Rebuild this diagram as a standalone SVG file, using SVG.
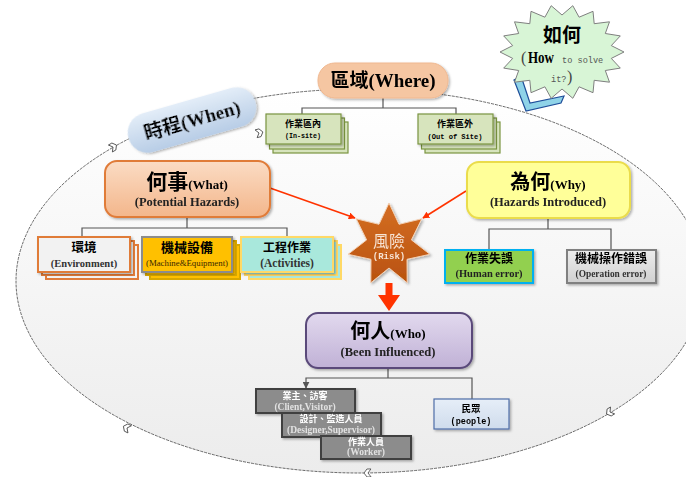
<svg xmlns="http://www.w3.org/2000/svg" width="686" height="477" viewBox="0 0 686 477">
  <defs>
    <linearGradient id="gOval" x1="0" y1="0" x2="0" y2="1">
      <stop offset="0" stop-color="#ffffff"/>
      <stop offset="1" stop-color="#ececec"/>
    </linearGradient>
    <linearGradient id="gPeach" x1="0" y1="0" x2="0" y2="1">
      <stop offset="0" stop-color="#fbdcc4"/>
      <stop offset="1" stop-color="#f3b68b"/>
    </linearGradient>
    <linearGradient id="gBlue" x1="0" y1="0" x2="0" y2="1">
      <stop offset="0" stop-color="#e3edf8"/>
      <stop offset="1" stop-color="#b8cde6"/>
    </linearGradient>
    <linearGradient id="gLav" x1="0" y1="0" x2="0" y2="1">
      <stop offset="0" stop-color="#e2d9ee"/>
      <stop offset="1" stop-color="#c0b1d6"/>
    </linearGradient>
    <linearGradient id="gGray" x1="0" y1="0" x2="0" y2="1">
      <stop offset="0" stop-color="#ededed"/>
      <stop offset="1" stop-color="#d0d0d0"/>
    </linearGradient>
    <linearGradient id="gRisk" x1="0" y1="0" x2="0" y2="1">
      <stop offset="0" stop-color="#d46e24"/>
      <stop offset="1" stop-color="#b9520f"/>
    </linearGradient>
    <linearGradient id="gPeople" x1="0" y1="0" x2="0" y2="1">
      <stop offset="0" stop-color="#e6eef8"/>
      <stop offset="1" stop-color="#cfdcec"/>
    </linearGradient>
    <filter id="shadow" x="-10%" y="-10%" width="130%" height="140%">
      <feDropShadow dx="1.5" dy="1.5" stdDeviation="1" flood-color="#000" flood-opacity="0.3"/>
    </filter>
    <marker id="redHead" viewBox="0 0 10 10" refX="9" refY="5" markerWidth="7" markerHeight="7" orient="auto" markerUnits="userSpaceOnUse">
      <path d="M0,0 L10,5 L0,10 z" fill="#ff3300"/>
    </marker>
    <marker id="grayHead" viewBox="0 0 10 10" refX="9" refY="5" markerWidth="7" markerHeight="7" orient="auto" markerUnits="userSpaceOnUse">
      <path d="M0,0 L10,5 L0,10 z" fill="#555"/>
    </marker>
    <path id="chev" d="M-3,-4 L1,-4 L4,0 L1,4 L-3,4 L0,0 z"/>
    <style>
      .cjk { font-family: 'Liberation Serif', 'Noto Sans CJK TC', serif; font-weight: bold; }
      .mono { font-family: 'Liberation Mono', 'Noto Sans CJK TC', monospace; font-weight: bold; }
      .mid { text-anchor: middle; }
      .tree { fill: none; stroke: #555; stroke-width: 1.2; }
      .red { fill: none; stroke: #ff3300; stroke-width: 1.6; }
      .chev { fill: #fff; stroke: #444; stroke-width: 0.8; }
      .site { fill: #d7e4bd; stroke: #7a9440; stroke-width: 1.2; }
      .env { fill: #f2f2f2; stroke: #e07b39; stroke-width: 2; }
      .mach { fill: #ffc000; stroke: #8c8c8c; stroke-width: 2; }
      .mach-b { fill: #ffc000; stroke: #d9a800; stroke-width: 2; }
      .act { fill: #a9e8dc; stroke: #ffd966; stroke-width: 2; }
      .person { fill: #8c8c8c; stroke: #3f3f3f; stroke-width: 2; }
      .ptext { fill: #ffffff; }
      .psub { fill: #e2e2e2; font-family: 'Liberation Serif', serif; font-weight: bold; font-size: 9.5px; }
      .paren { font-family: 'Liberation Serif', serif; font-size: 16px; fill: #444; }
      .small { font-family: 'Liberation Mono', monospace; font-size: 8.6px; fill: #555; }
    </style>
  </defs>

  <!-- background cycle oval -->
  <ellipse cx="360" cy="281" rx="344" ry="192" fill="url(#gOval)" stroke="#444" stroke-width="0.8" stroke-dasharray="3 1"/>
  <g id="cycle-marks" class="chev">
    <use href="#chev" transform="translate(113,147) rotate(-30)"/>
    <use href="#chev" transform="translate(259,133) rotate(-15)"/>
    <use href="#chev" transform="translate(127,428) rotate(-154)"/>
    <use href="#chev" transform="translate(368,473) rotate(179)"/>
    <use href="#chev" transform="translate(610,412) rotate(149)"/>
  </g>

  <!-- connectors -->
  <g id="connectors">
    <path class="tree" d="M383,98 V108 M302,115 V108 H456 V115"/>
    <path class="tree" d="M187,217 V228 M82,237 V228 H287 V237"/>
    <path class="tree" d="M548,218 V229 M489,250 V229 H611 V250"/>
    <path class="tree" d="M388,368 V378 M472,399 V378 H306 V388" marker-end="url(#grayHead)"/>
    <path class="red" d="M270,188 L355,218" marker-end="url(#redHead)"/>
    <path class="red" d="M466,191 L423,218" marker-end="url(#redHead)"/>
    <path d="M385.5,283 h7 v12 h7.5 l-11,16 l-11,-16 h7.5 z" fill="#ff3300"/>
  </g>

  <!-- How to solve it? -->
  <g id="how">
    <polygon points="514,80 526,111 561,103 564,96 530,103 521,76" fill="#8fd3e8" stroke="#1f4e99" stroke-width="1.2"/>
    <polygon fill="#d8f5d6" stroke="#7f7f7f" stroke-width="1" points="624,52 611.3,45.6 620.3,35.9 605.3,33.5 609.5,21.8 594.2,23.7 593,11.3 579.1,17.2 572.8,5.7 562,15 551.2,5.7 544.9,17.2 531,11.3 529.8,23.7 514.5,21.8 518.7,33.5 503.7,35.9 512.7,45.6 500,52 512.7,58.4 503.7,68.1 518.7,70.5 514.5,82.2 529.8,80.3 531,92.7 544.9,86.8 551.2,98.3 562,89 572.8,98.3 579.1,86.8 593,92.7 594.2,80.3 609.5,82.2 605.3,70.5 620.3,68.1 611.3,58.4"/>
    <text class="cjk mid" x="562" y="42" font-size="19" fill="#000">如何</text>
    <text class="paren" x="521" y="63">(</text>
    <text x="528" y="63" font-family="'Liberation Serif', serif" font-weight="bold" font-size="17" fill="#000" textLength="26" lengthAdjust="spacingAndGlyphs">How</text>
    <text class="small" x="562" y="63">to solve</text>
    <text class="small" x="551" y="82">it?</text>
    <text class="paren" x="567" y="82">)</text>
  </g>

  <!-- Where -->
  <g id="where" filter="url(#shadow)">
    <rect x="318" y="63" width="130" height="35" rx="17" fill="#f5c6a2" stroke="#f0b890" stroke-width="1"/>
    <text class="cjk mid" x="383" y="87" font-size="19">區域(Where)</text>
  </g>
  <g id="in-site">
    <rect class="site" x="273" y="122" width="75" height="31"/>
    <rect class="site" x="269.5" y="118" width="75" height="31"/>
    <rect class="site" x="266" y="114" width="75" height="30" filter="url(#shadow)"/>
    <text class="mono mid" x="303" y="127" font-size="9">作業區內</text>
    <text class="mono mid" x="303" y="138" font-size="8" textLength="36" lengthAdjust="spacingAndGlyphs">(In-site)</text>
  </g>
  <g id="out-site">
    <rect class="site" x="425" y="122" width="75" height="31"/>
    <rect class="site" x="421.5" y="118" width="75" height="31"/>
    <rect class="site" x="418" y="114" width="75" height="30" filter="url(#shadow)"/>
    <text class="mono mid" x="455" y="127" font-size="9">作業區外</text>
    <text class="mono mid" x="455" y="139" font-size="8" textLength="55" lengthAdjust="spacingAndGlyphs">(Out of Site)</text>
  </g>

  <!-- When -->
  <g id="when" transform="translate(192,120) rotate(-16)" filter="url(#shadow)">
    <rect x="-66" y="-20" width="132" height="40" rx="20" fill="url(#gBlue)"/>
    <text class="cjk mid" x="0" y="7" font-size="19">時程(When)</text>
  </g>

  <!-- What -->
  <g id="what" filter="url(#shadow)">
    <rect x="105" y="161" width="165" height="56" rx="12" fill="url(#gPeach)" stroke="#e07b39" stroke-width="2"/>
    <text class="cjk mid" x="187" y="189"><tspan font-size="21">何事</tspan><tspan font-size="13">(What)</tspan></text>
    <text class="cjk mid" x="187" y="206" font-size="12.5" fill="#222">(Potential Hazards)</text>
  </g>
  <g id="environment">
    <rect class="env" x="46" y="245" width="92" height="34"/>
    <rect class="env" x="42" y="241" width="92" height="34"/>
    <rect class="env" x="38" y="237" width="92" height="35" filter="url(#shadow)"/>
    <text class="cjk mid" x="84" y="252" font-size="12.5">環境</text>
    <text class="cjk mid" x="84" y="267" font-size="10.5" fill="#333">(Environment)</text>
  </g>
  <g id="machine">
    <rect class="mach-b" x="150" y="245" width="90" height="34"/>
    <rect class="mach-b" x="146" y="241" width="90" height="34"/>
    <rect class="mach" x="142" y="237" width="90" height="35" filter="url(#shadow)"/>
    <text class="cjk mid" x="187" y="252" font-size="13">機械設備</text>
    <text class="mid" x="187" y="266" font-family="'Liberation Serif', serif" font-size="8.8" fill="#3a2800">(Machine&amp;Equipment)</text>
  </g>
  <g id="activities">
    <rect class="act" x="249" y="245" width="92" height="34"/>
    <rect class="act" x="245" y="241" width="92" height="34"/>
    <rect class="act" x="241" y="237" width="92" height="35" filter="url(#shadow)"/>
    <text class="cjk mid" x="287" y="252" font-size="12">工程作業</text>
    <text class="cjk mid" x="287" y="267" font-size="11.5" fill="#333">(Activities)</text>
  </g>

  <!-- Why -->
  <g id="why" filter="url(#shadow)">
    <rect x="467" y="162" width="163" height="56" rx="12" fill="#ffff99" stroke="#eadc4c" stroke-width="2"/>
    <text class="cjk mid" x="548" y="189"><tspan font-size="20">為何</tspan><tspan font-size="13">(Why)</tspan></text>
    <text class="cjk mid" x="548" y="206" font-size="12.5" fill="#222">(Hazards Introduced)</text>
  </g>
  <g id="human-error" filter="url(#shadow)">
    <rect x="445" y="250" width="88" height="33" fill="#92d050" stroke="#00b0f0" stroke-width="2"/>
    <text class="cjk mid" x="489" y="263" font-size="12">作業失誤</text>
    <text class="cjk mid" x="489" y="277" font-size="10.5" fill="#222">(Human error)</text>
  </g>
  <g id="operation-error" filter="url(#shadow)">
    <rect x="567" y="250" width="89" height="33" fill="url(#gGray)" stroke="#808080" stroke-width="2"/>
    <text class="cjk mid" x="611" y="263" font-size="12">機械操作錯誤</text>
    <text class="cjk mid" x="611" y="277" font-size="9.4" fill="#333">(Operation error)</text>
  </g>

  <!-- Risk -->
  <g id="risk" filter="url(#shadow)">
    <polygon points="389,203 399,224.3 421.8,218.8 411.4,239.9 429.9,254.3 407,259.3 407.2,282.8 389,268 370.8,282.8 371,259.3 348.1,254.3 366.6,239.9 356.2,218.8 379,224.3" fill="url(#gRisk)" stroke="#f2d0b4" stroke-width="1"/>
    <text class="mid" x="389" y="247" font-family="'Noto Sans CJK TC', sans-serif" font-size="16" fill="#f7e3d3">風險</text>
    <text class="mono mid" x="389" y="259" font-size="9" fill="#f7e3d3">(Risk)</text>
  </g>

  <!-- Who -->
  <g id="who" filter="url(#shadow)">
    <rect x="306" y="313" width="166" height="55" rx="12" fill="url(#gLav)" stroke="#5a4a7a" stroke-width="2"/>
    <text class="cjk mid" x="388" y="338"><tspan font-size="20">何人</tspan><tspan font-size="13">(Who)</tspan></text>
    <text class="cjk mid" x="388" y="356" font-size="12.5" fill="#222">(Been Influenced)</text>
  </g>
  <g id="client" filter="url(#shadow)">
    <rect class="person" x="256" y="389" width="99" height="24"/>
    <text class="cjk mid ptext" x="305" y="399" font-size="9">業主、訪客</text>
    <text class="psub mid" x="305" y="410">(Client,Visitor)</text>
  </g>
  <g id="designer" filter="url(#shadow)">
    <rect class="person" x="282" y="413" width="99" height="24"/>
    <text class="cjk mid ptext" x="331" y="422" font-size="9">設計、監造人員</text>
    <text class="psub mid" x="331" y="433">(Designer,Supervisor)</text>
  </g>
  <g id="worker" filter="url(#shadow)">
    <rect class="person" x="321" y="436" width="90" height="23"/>
    <text class="cjk mid ptext" x="366" y="445" font-size="9">作業人員</text>
    <text class="psub mid" x="366" y="455">(Worker)</text>
  </g>
  <g id="people" filter="url(#shadow)">
    <rect x="434" y="399" width="75" height="30" fill="url(#gPeople)" stroke="#4f6fa8" stroke-width="1.2"/>
    <text class="mono mid" x="471" y="412" font-size="9.5">民眾</text>
    <text class="mono mid" x="471" y="424" font-size="8.5">(people)</text>
  </g>
</svg>
